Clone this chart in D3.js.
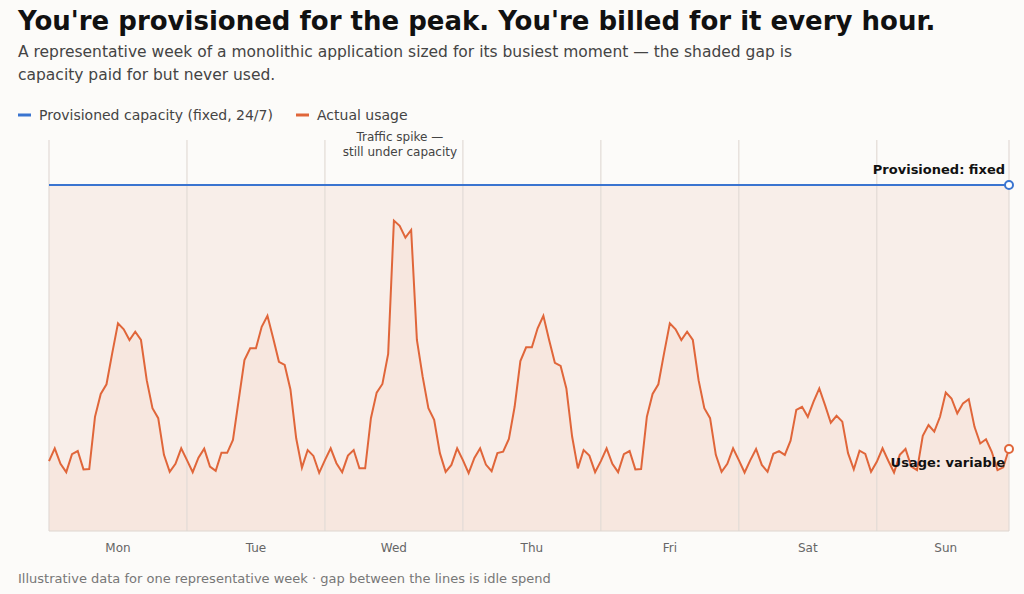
<!DOCTYPE html>
<html><head><meta charset="utf-8">
<script src="https://cdn.jsdelivr.net/npm/d3@7"></script>
<style>body{margin:0;background:#fcfbf9;font-family:"DejaVu Sans",sans-serif;}</style>
</head><body><svg id="c"></svg>
<script>
const width = 1024, height = 594;
const days = ["Mon","Tue","Wed","Thu","Fri","Sat","Sun"];
const provisioned = 100;
// hourly usage, one row per day
const mon = [20.2,23.9,19.4,17.0,22.2,23.1,17.8,17.9,33.0,39.6,42.4,51.4,60.0,58.3,55.2,57.6,55.2,43.6,35.5,32.6,22.0,17.1,19.4,23.9];
const tue = [20.5,17.0,21.2,23.8,18.6,17.4,22.6,22.6,26.3,37.9,49.4,52.8,52.8,59.0,62.2,55.7,48.9,48.0,40.9,26.8,18.3,23.4,21.7,16.8];
const wed = [20.5,23.9,19.6,17.0,21.8,23.4,18.1,18.1,32.6,40.0,42.5,51.2,89.7,88.2,84.8,87.0,55.2,44.6,35.5,32.1,22.5,17.1,19.1,23.9];
const thu = [20.5,16.7,21.1,23.9,19.2,17.3,22.5,22.9,26.6,35.9,49.1,53.1,53.1,58.6,62.2,55.2,48.6,47.7,41.2,27.3,18.1,23.4,21.8,17.0];
const fri = [20.2,23.9,19.4,17.0,22.2,23.1,17.8,17.9,33.0,39.6,42.4,51.4,60.0,58.3,55.2,57.6,55.2,43.6,35.5,32.6,22.0,17.1,19.4,23.9];
const sat = [20.5,16.9,20.5,23.7,19.1,17.1,22.3,23.1,22.0,26.1,35.0,35.9,33.0,37.4,41.2,36.4,31.3,33.3,31.6,22.5,17.8,23.2,22.3,17.1];
const sun = [20.0,23.9,20.3,16.9,22.0,23.7,18.6,17.6,27.5,30.6,28.7,33.0,40.0,38.3,34.0,36.9,38.1,30.1,25.3,26.5,22.9,17.6,18.4,23.7];
const usage = [].concat(mon,tue,wed,thu,fri,sat,sun);

const svg = d3.select("#c").attr("width", width).attr("height", height);
const plotL = 49, plotR = 1009, plotT = 140, plotB = 531;
const x = d3.scaleLinear().domain([0, usage.length - 1]).range([plotL, plotR]);
const y = d3.scaleLinear().domain([0, 113]).range([plotB, plotT]);

// title block
svg.append("text").attr("x", 18).attr("y", 30).attr("font-size", 26).attr("font-weight", "bold")
  .attr("fill", "#111").text("You're provisioned for the peak. You're billed for it every hour.");
svg.append("text").attr("x", 18).attr("y", 57).attr("font-size", 15.5).attr("fill", "#444")
  .text("A representative week of a monolithic application sized for its busiest moment \u2014 the shaded gap is");
svg.append("text").attr("x", 18).attr("y", 80).attr("font-size", 15.5).attr("fill", "#444")
  .text("capacity paid for but never used.");

// legend
const legend = [{t:"Provisioned capacity (fixed, 24/7)", c:"#3a74d0", x:18}, {t:"Actual usage", c:"#e0663a", x:296}];
legend.forEach(l => {
  svg.append("line").attr("x1", l.x).attr("x2", l.x + 13).attr("y1", 115).attr("y2", 115)
    .attr("stroke", l.c).attr("stroke-width", 3);
  svg.append("text").attr("x", l.x + 21).attr("y", 120).attr("font-size", 14).attr("fill", "#444").text(l.t);
});

// areas
svg.append("path").datum(usage)
  .attr("d", d3.area().x((d, i) => x(i)).y0(y(provisioned)).y1(d => y(d)))
  .attr("fill", "#f8eee9");
svg.append("path").datum(usage)
  .attr("d", d3.area().x((d, i) => x(i)).y0(plotB).y1(d => y(d)))
  .attr("fill", "#f7e7df");

// day gridlines
const dayLen = 24;
svg.append("g").selectAll("line").data(d3.range(0, 8)).enter().append("line")
  .attr("x1", d => x(Math.min(d * dayLen, usage.length - 1))).attr("x2", d => x(Math.min(d * dayLen, usage.length - 1)))
  .attr("y1", plotT).attr("y2", plotB).attr("stroke", "#e2dbd6").attr("stroke-width", 1.2);
svg.append("line").attr("x1", plotL).attr("x2", plotR).attr("y1", plotB).attr("y2", plotB)
  .attr("stroke", "#ddd6d0");

// day labels
svg.append("g").selectAll("text").data(days).enter().append("text")
  .attr("x", (d, i) => x(i * dayLen + 12)).attr("y", 552).attr("text-anchor", "middle")
  .attr("font-size", 12).attr("fill", "#666").text(d => d);

// provisioned line
svg.append("line").attr("x1", plotL).attr("x2", plotR).attr("y1", y(provisioned)).attr("y2", y(provisioned))
  .attr("stroke", "#3a74d0").attr("stroke-width", 2);
svg.append("circle").attr("cx", plotR).attr("cy", y(provisioned)).attr("r", 4)
  .attr("fill", "#fff").attr("stroke", "#3a74d0").attr("stroke-width", 2);

// usage line
svg.append("path").datum(usage)
  .attr("d", d3.line().x((d, i) => x(i)).y(d => y(d)))
  .attr("fill", "none").attr("stroke", "#e0663a").attr("stroke-width", 2);
svg.append("circle").attr("cx", plotR).attr("cy", y(usage[usage.length - 1])).attr("r", 4)
  .attr("fill", "#fff").attr("stroke", "#e0663a").attr("stroke-width", 2);

// end labels
svg.append("text").attr("x", 1005).attr("y", y(provisioned) - 11).attr("text-anchor", "end")
  .attr("font-size", 13).attr("font-weight", "bold").attr("fill", "#111").text("Provisioned: fixed");
svg.append("text").attr("x", 1005).attr("y", y(usage[usage.length - 1]) + 18).attr("text-anchor", "end")
  .attr("font-size", 13).attr("font-weight", "bold").attr("fill", "#111").text("Usage: variable");

// spike annotation
const spikeX = x(2 * dayLen + 12) + 6;
svg.append("text").attr("x", spikeX).attr("y", 141).attr("text-anchor", "middle")
  .attr("font-size", 12).attr("fill", "#444").text("Traffic spike \u2014");
svg.append("text").attr("x", spikeX).attr("y", 156).attr("text-anchor", "middle")
  .attr("font-size", 12).attr("fill", "#444").text("still under capacity");

// footer
svg.append("text").attr("x", 18).attr("y", 583).attr("font-size", 13).attr("fill", "#777")
  .text("Illustrative data for one representative week \u00b7 gap between the lines is idle spend");
</script></body></html>
